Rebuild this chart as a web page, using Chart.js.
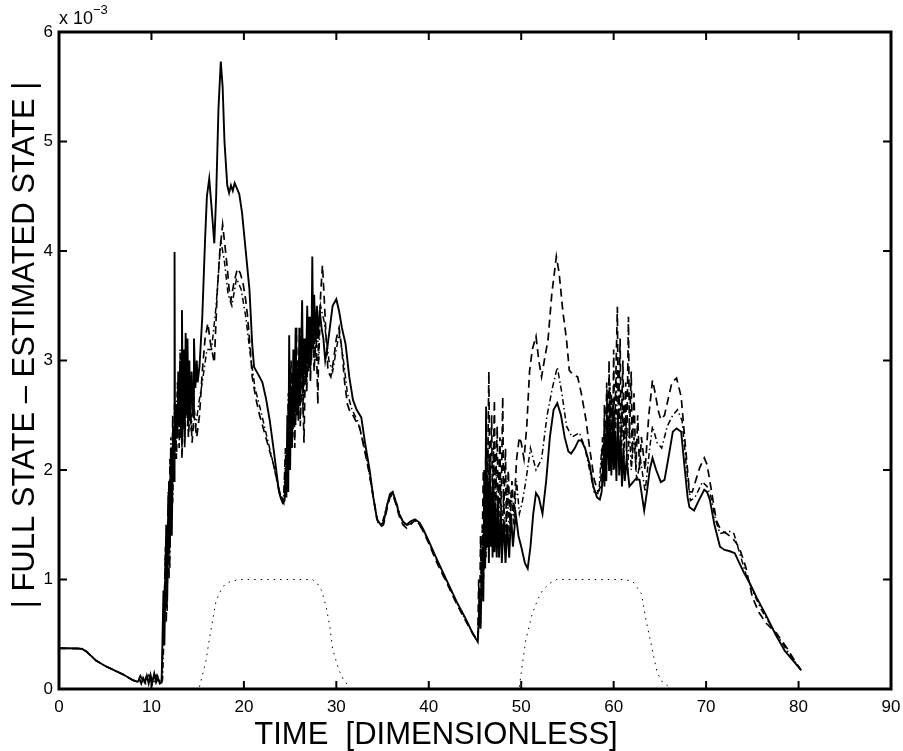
<!DOCTYPE html>
<html>
<head>
<meta charset="utf-8">
<script src="https://cdn.jsdelivr.net/npm/chart.js@4"></script>
<style>
  html, body { margin: 0; padding: 0; background: #fff; }
  #wrap { width: 903px; height: 751px; }
</style>
</head>
<body>
<div id="wrap"><canvas id="errChart"></canvas></div>
<script>
// values in units of 1e-3
const solidX = [0, 1, 2, 2.5, 3, 3.5, 4, 5, 6, 7, 8, 8.5,
  8.7, 8.9, 9.1, 9.3, 9.5, 9.7, 9.9, 10.1, 10.3, 10.5, 10.7, 10.9, 11.1,
  11.3, 11.4, 11.6, 11.7, 11.9, 12.0, 12.1, 12.2, 12.35, 12.45, 12.5, 12.55, 12.7, 12.8, 12.9, 13.0, 13.1, 13.2, 13.3, 13.4, 13.5, 13.6, 13.7, 13.8, 13.9, 14.0, 14.1, 14.2, 14.35, 14.5, 14.6, 14.75, 14.9, 15.0,
  15.2, 15.5, 15.8, 16.0, 16.25, 16.5, 16.8, 17.0, 17.25, 17.5, 17.7, 17.9, 18.2, 18.4, 18.6, 18.8, 19.0, 19.2, 19.5, 19.8, 20.2, 20.6, 20.9, 21.1, 21.5, 22.0, 22.4, 22.8, 23.2, 23.5, 23.8, 24.0, 24.2, 24.4,
  24.5, 24.6, 24.7, 24.8, 24.9, 25.0, 25.1, 25.2, 25.35, 25.45, 25.6, 25.7, 25.8, 25.9, 26.0, 26.1, 26.3, 26.4, 26.55, 26.7, 26.85, 27.0, 27.15, 27.3, 27.4, 27.5, 27.6, 27.75, 27.9, 28.0, 28.2, 28.4, 28.6, 28.8, 29.0, 29.3, 29.6, 30.0, 30.3, 30.6, 31.0, 31.4, 31.8, 32.2, 32.7, 33.1, 33.6, 34.0, 34.4, 34.8, 35.1, 35.5, 35.8, 36.1, 36.4, 36.8, 37.2, 37.6, 38.0, 38.5, 39.0, 39.4, 40, 41, 42, 43, 44, 44.8, 45.3,
  45.5, 45.6, 45.8, 45.9, 46.0, 46.1, 46.2, 46.3, 46.4, 46.5, 46.6, 46.7, 46.8, 46.9, 47.0, 47.1, 47.2, 47.35, 47.5, 47.6, 47.8, 47.9, 48.1, 48.3, 48.5, 48.7, 48.9, 49.1, 49.4, 49.7, 50.0, 50.4, 50.7, 51.0, 51.3, 51.6, 51.9, 52.3, 52.7, 53.1, 53.5, 53.9, 54.3, 54.7, 55.1, 55.4, 55.8, 56.2, 56.5, 56.9, 57.4, 57.8, 58.2, 58.5, 58.7,
  58.9, 59.0, 59.1, 59.2, 59.35, 59.5, 59.6, 59.75, 59.9, 60.0, 60.15, 60.3, 60.45, 60.6, 60.75, 60.9, 61.05, 61.2, 61.4, 61.7, 62.0, 62.4, 62.8, 63.0, 63.3, 63.6, 63.9, 64.2, 64.6, 65.1, 65.5, 65.9, 66.4, 66.8, 67.3, 67.7, 68.0, 68.2, 68.7, 69.2, 69.8, 70.1, 70.4, 70.9, 71.5, 72.0, 72.5, 73.1, 73.6, 74.1, 74.7, 75.5, 76.5, 77.5, 78.5, 79.5, 80.3];
const solidY = [0.375, 0.372, 0.37, 0.365, 0.34, 0.3, 0.26, 0.21, 0.17, 0.13, 0.08, 0.065,
  0.09, 0.05, 0.1, 0.06, 0.12, 0.05, 0.13, 0.06, 0.14, 0.06, 0.1, 0.05, 0.06,
  0.9, 0.4, 1.5, 0.8, 1.9, 1.3, 2.2, 1.4, 2.4, 1.9, 3.99, 2.2, 2.6, 2.3, 2.9, 2.4, 3.0, 2.3, 3.46, 2.4, 3.1, 2.3, 3.25, 2.5, 3.2, 2.4, 3.0, 2.45, 2.9, 2.5, 3.2, 2.75, 3.0, 2.8,
  2.95, 3.4, 4.1, 4.5, 4.66, 4.4, 4.07, 4.5, 5.3, 5.73, 5.5, 5.0, 4.6, 4.53, 4.6, 4.55, 4.62, 4.58, 4.52, 4.35, 4.0, 3.65, 3.15, 2.94, 2.88, 2.8, 2.65, 2.45, 2.2, 2.0, 1.8, 1.74, 1.7, 1.72,
  2.0, 1.75, 2.5, 1.8, 3.23, 2.0, 2.7, 2.2, 3.1, 2.4, 3.3, 2.5, 2.9, 2.45, 3.3, 2.6, 3.55, 2.7, 3.2, 2.8, 3.5, 2.9, 3.4, 3.0, 3.95, 3.1, 3.6, 3.2, 3.5, 3.2, 3.46, 3.3, 3.2, 3.0, 3.1, 3.3, 3.5, 3.56, 3.45, 3.3, 3.15, 2.85, 2.64, 2.55, 2.48, 2.25, 2.0, 1.75, 1.55, 1.5, 1.52, 1.68, 1.78, 1.8, 1.72, 1.6, 1.53, 1.5, 1.53, 1.55, 1.52, 1.46, 1.35, 1.16, 0.98, 0.8, 0.64, 0.5, 0.43,
  0.8, 0.55, 1.3, 0.8, 2.0, 1.1, 2.58, 1.3, 1.9, 1.15, 2.1, 1.3, 1.8, 1.2, 1.9, 1.25, 1.7, 1.2, 1.75, 1.2, 1.6, 1.15, 1.55, 1.15, 1.5, 1.2, 1.6, 1.3, 1.6, 1.4, 1.3, 1.15, 1.1, 1.3, 1.6, 1.79, 1.75, 1.6, 1.9, 2.3, 2.55, 2.61, 2.5, 2.3, 2.17, 2.15, 2.2, 2.27, 2.27, 2.2, 2.05, 1.85, 1.75, 1.73, 1.8,
  2.1, 1.85, 2.3, 1.9, 2.5, 2.0, 2.4, 1.95, 2.6, 2.0, 2.35, 1.9, 2.5, 1.95, 2.3, 1.85, 2.2, 1.9, 2.1, 1.85, 1.88, 1.92, 1.91, 1.8, 1.63, 1.8, 2.0, 2.11, 2.0, 1.89, 1.91, 2.1, 2.35, 2.38, 2.35, 2.0, 1.75, 1.66, 1.63, 1.72, 1.82, 1.8, 1.73, 1.5, 1.3, 1.27, 1.26, 1.24, 1.15, 1.06, 0.97, 0.83, 0.67, 0.5, 0.35, 0.25, 0.17];

const dashX = [0, 2.5, 3, 4, 5, 6, 7, 8, 8.5, 8.8, 9.2, 9.6, 10.0, 10.4, 10.8, 11.1,
  11.3, 11.5, 11.6, 11.8, 11.9, 12.0, 12.2, 12.3, 12.4, 12.6, 12.7, 12.9, 13.0, 13.2, 13.3, 13.5, 13.6, 13.8, 14.0, 14.2, 14.4, 14.6, 14.9, 15.2, 15.5, 15.8, 16.1, 16.4, 16.8, 17.1, 17.4, 17.7, 17.95, 18.2, 18.4, 18.6, 18.9, 19.3, 19.6, 19.9, 20.2, 20.4, 20.7, 20.9, 21.3, 21.7, 22.2, 22.7, 23.2, 23.6, 24.0, 24.3,
  24.5, 24.6, 24.8, 24.9, 25.1, 25.2, 25.4, 25.5, 25.7, 25.8, 26.0, 26.1, 26.3, 26.5, 26.7, 26.8, 27.0, 27.2, 27.4, 27.6, 27.8, 28.0, 28.1, 28.3, 28.5, 28.7, 28.9, 29.1, 29.4, 29.7, 30.0, 30.3, 30.6, 30.9, 31.2, 31.4, 31.8, 32.1, 32.5, 33.0, 33.5, 34.0, 34.4, 34.8, 35.1, 35.5, 35.8, 36.1, 36.4, 36.8, 37.2, 37.6, 38.0, 38.5, 39.0, 39.4, 40, 41, 42, 43, 44, 44.8, 45.3,
  45.4, 45.5, 45.6, 45.7, 45.9, 46.0, 46.2, 46.3, 46.5, 46.6, 46.8, 46.9, 47.1, 47.2, 47.4, 47.5, 47.7, 47.8, 48.0, 48.1, 48.3, 48.4, 48.6, 48.8, 49.0, 49.2, 49.5, 49.8, 50.0, 50.3, 50.6, 50.9, 51.2, 51.6, 51.9, 52.2, 52.5, 52.9, 53.3, 53.8, 54.1, 54.5, 54.9, 55.2, 55.6, 56.1, 56.5, 57.0, 57.4, 57.9, 58.3, 58.6,
  58.8, 58.9, 59.0, 59.1, 59.25, 59.4, 59.5, 59.6, 59.75, 59.9, 60.0, 60.1, 60.25, 60.4, 60.5, 60.7, 60.8, 61.0, 61.1, 61.3, 61.4, 61.6, 61.7, 61.9, 62.0, 62.2, 62.4, 62.6, 62.8, 63.0, 63.4, 63.8, 64.2, 64.5, 64.8, 65.1, 65.5, 65.9, 66.3, 66.8, 67.3, 67.8, 68.2, 68.5, 68.9, 69.3, 69.8, 70.1, 70.5, 71.1, 71.6, 72.2, 72.8, 73.2, 73.6, 74.3, 75.0, 75.7, 76.5, 77.6, 78.7, 79.5, 80.2];
const dashY = [0.37, 0.37, 0.34, 0.26, 0.21, 0.17, 0.13, 0.08, 0.065, 0.12, 0.05, 0.15, 0.06, 0.12, 0.05, 0.07,
  0.5, 1.2, 0.6, 1.7, 1.0, 2.1, 1.6, 2.5, 2.0, 2.6, 2.1, 2.8, 2.2, 3.0, 2.1, 2.8, 2.2, 2.9, 2.3, 2.6, 2.25, 2.5, 2.3, 2.5, 2.9, 3.2, 3.34, 3.15, 2.98, 3.6, 4.0, 4.24, 4.05, 3.85, 3.65, 3.55, 3.7, 3.84, 3.8, 3.71, 3.55, 3.4, 3.1, 2.85, 2.65, 2.5, 2.35, 2.2, 2.05, 1.9, 1.75, 1.7,
  2.2, 1.8, 2.6, 2.0, 3.0, 2.3, 2.8, 2.2, 3.3, 2.5, 3.1, 2.4, 3.0, 2.25, 3.2, 2.7, 3.4, 2.8, 3.5, 2.9, 3.3, 2.6, 3.2, 3.6, 3.87, 3.55, 3.2, 2.9, 2.85, 3.0, 3.2, 3.3, 3.1, 2.8, 2.6, 2.55, 2.5, 2.45, 2.4, 2.2, 2.0, 1.75, 1.55, 1.48, 1.5, 1.65, 1.75, 1.78, 1.7, 1.58, 1.5, 1.47, 1.5, 1.54, 1.5, 1.44, 1.33, 1.13, 0.96, 0.78, 0.62, 0.5, 0.45,
  1.0, 0.6, 1.4, 0.8, 2.0, 1.3, 2.3, 1.5, 2.9, 1.7, 2.5, 1.6, 2.64, 1.7, 2.4, 1.6, 2.3, 1.5, 2.67, 1.6, 2.2, 1.4, 2.0, 1.5, 1.9, 1.6, 2.1, 2.3, 2.25, 2.1, 2.4, 2.9, 3.1, 3.22, 3.0, 2.85, 3.0, 3.19, 3.6, 3.95, 3.8, 3.45, 3.19, 2.91, 2.87, 2.85, 2.7, 2.46, 2.2, 1.91, 1.8, 1.85,
  2.3, 1.9, 2.6, 2.0, 2.8, 2.1, 3.0, 2.2, 2.7, 2.1, 3.1, 2.3, 2.9, 3.49, 2.4, 3.2, 2.3, 3.0, 2.2, 2.8, 2.1, 3.4, 2.3, 2.9, 2.1, 2.7, 2.0, 2.5, 2.0, 2.3, 2.0, 2.5, 2.82, 2.7, 2.55, 2.46, 2.5, 2.65, 2.8, 2.84, 2.67, 2.18, 1.8, 1.8, 1.91, 2.02, 2.11, 2.05, 1.85, 1.54, 1.45, 1.42, 1.38, 1.34, 1.29, 1.11, 0.84, 0.7, 0.6, 0.51, 0.38, 0.27, 0.18];

const dashDotX = [0, 2.5, 3, 4, 5, 6, 7, 8, 8.5, 9.0, 9.4, 9.8, 10.2, 10.6, 11.0, 11.2,
  11.4, 11.5, 11.7, 11.8, 12.0, 12.1, 12.3, 12.5, 12.6, 12.8, 13.0, 13.1, 13.3, 13.4, 13.6, 13.8, 13.9, 14.1, 14.3, 14.5, 14.8, 15.1, 15.5, 16.0, 16.5, 17.0, 17.5, 17.9, 18.3, 18.7, 19.2, 19.7, 20.2, 20.7, 21.2, 21.8, 22.5, 23.2, 23.8, 24.3,
  24.5, 24.7, 24.8, 25.0, 25.1, 25.3, 25.5, 25.6, 25.8, 26.0, 26.2, 26.4, 26.6, 26.8, 27.0, 27.2, 27.5, 27.7, 27.9, 28.1, 28.3, 28.7, 29.2, 29.6, 30.0, 30.3, 30.7, 31.2, 31.7, 32.3, 33.0, 33.5, 34.0, 34.5, 34.9, 35.3, 35.7, 36.1, 36.5, 37.0, 37.5, 38.0, 38.6, 39.3, 40, 41, 42, 43, 44, 44.8, 45.3,
  45.5, 45.6, 45.8, 45.9, 46.1, 46.2, 46.4, 46.5, 46.7, 46.8, 47.0, 47.2, 47.3, 47.5, 47.7, 47.9, 48.1, 48.3, 48.5, 48.7, 48.9, 49.2, 49.5, 49.8, 50.1, 50.5, 51.0, 51.6, 52.2, 52.8, 53.4, 53.9, 54.4, 54.9, 55.5, 56.3, 56.9, 57.4, 57.9, 58.4,
  58.7, 58.85, 59.0, 59.15, 59.3, 59.45, 59.6, 59.8, 59.95, 60.1, 60.3, 60.45, 60.6, 60.8, 60.95, 61.1, 61.3, 61.5, 61.7, 61.9, 62.2, 62.5, 62.9, 63.4, 63.9, 64.2, 64.7, 65.2, 65.8, 66.4, 66.9, 67.4, 67.9, 68.3, 68.8, 69.6, 70.1, 70.5, 71.0, 71.5, 72.5, 73.0, 73.6, 74.3, 75.0, 76.0, 77.0, 78.0, 79.0, 80.2];
const dashDotY = [0.37, 0.37, 0.34, 0.26, 0.21, 0.17, 0.13, 0.08, 0.07, 0.1, 0.05, 0.11, 0.05, 0.13, 0.06, 0.08,
  0.6, 1.3, 0.7, 1.8, 1.1, 2.3, 1.7, 2.6, 2.1, 2.8, 2.3, 3.1, 2.2, 2.9, 2.3, 3.0, 2.4, 2.8, 2.35, 2.7, 2.4, 2.6, 2.8, 3.1, 3.1, 3.5, 4.1, 3.9, 3.6, 3.5, 3.75, 3.65, 3.4, 3.05, 2.75, 2.55, 2.3, 2.05, 1.8, 1.72,
  2.1, 1.8, 2.7, 2.1, 2.9, 2.3, 3.1, 2.4, 3.0, 2.6, 3.3, 2.5, 3.1, 2.8, 3.4, 2.9, 3.6, 3.0, 3.4, 3.0, 3.5, 3.35, 3.0, 2.9, 3.1, 3.25, 3.05, 2.7, 2.55, 2.45, 2.22, 2.0, 1.75, 1.52, 1.5, 1.62, 1.75, 1.79, 1.7, 1.56, 1.49, 1.51, 1.54, 1.47, 1.34, 1.15, 0.97, 0.79, 0.63, 0.5, 0.44,
  0.9, 0.6, 1.5, 0.9, 1.8, 1.2, 2.2, 1.3, 1.9, 1.3, 2.2, 1.4, 2.0, 1.3, 1.9, 1.35, 1.8, 1.3, 1.9, 1.4, 1.8, 1.5, 1.9, 1.6, 1.7, 1.9, 2.2, 2.0, 2.1, 2.5, 2.76, 2.94, 2.7, 2.4, 2.3, 2.34, 2.2, 2.0, 1.8, 1.78,
  2.2, 1.9, 2.5, 2.0, 2.7, 2.05, 2.8, 2.1, 2.6, 2.0, 2.9, 2.1, 2.7, 2.0, 2.6, 2.1, 2.5, 1.95, 2.4, 2.0, 2.3, 1.9, 2.1, 1.8, 2.2, 2.4, 2.25, 2.2, 2.4, 2.5, 2.55, 2.45, 2.0, 1.72, 1.75, 1.89, 1.85, 1.76, 1.55, 1.42, 1.44, 1.42, 1.25, 1.05, 0.9, 0.72, 0.58, 0.45, 0.32, 0.18];

// control input shown as dotted trapezoids (null splits the two pulses)
const dottedX = [15.2, 15.5, 15.9, 16.2, 16.5, 17.0, 17.5, 17.9, 18.5, 19.5, 27.4, 27.9, 28.4, 28.9, 29.3, 29.6, 30.0, 30.3, 30.8, 31.4,
  40,
  49.8, 50.0, 50.5, 51.2, 51.8, 52.3, 53.0, 53.8, 61.2, 62.1, 63.0, 63.5, 64.1, 64.7, 65.3, 66.0];
const dottedY = [0.02, 0.12, 0.26, 0.42, 0.57, 0.81, 0.9, 0.95, 0.98, 1.0, 1.0, 0.97, 0.9, 0.75, 0.57, 0.36, 0.25, 0.17, 0.08, 0.02,
  null,
  0.02, 0.15, 0.45, 0.69, 0.82, 0.9, 0.96, 1.0, 1.0, 0.98, 0.87, 0.63, 0.39, 0.15, 0.06, 0.02];

const xTicks = [0, 10, 20, 30, 40, 50, 60, 70, 80, 90];
const yTicks = [0, 1, 2, 3, 4, 5, 6];
const xTitle = 'TIME  [DIMENSIONLESS]';
const yTitle = '| FULL STATE \u2013 ESTIMATED STATE |';

function toPoints(xs, ys) {
    return xs.map((x, i) => ({ x: x, y: ys[i] }));
}

const FONT = '"Liberation Sans", Arial, Helvetica, sans-serif';
Chart.defaults.font.family = FONT;
Chart.defaults.color = '#000';

// MATLAB style box with inward ticks, axis titles and exponent label
const boxPlugin = {
    id: 'boxPlugin',
    afterDraw(chart) {
        const ctx = chart.ctx;
        const a = chart.chartArea;
        const xs = chart.scales.x, ys = chart.scales.y;
        ctx.save();
        ctx.strokeStyle = '#000';
        ctx.lineWidth = 2;
        xTicks.forEach(v => {
            const px = xs.getPixelForValue(v);
            ctx.beginPath();
            ctx.moveTo(px, a.bottom); ctx.lineTo(px, a.bottom - 8);
            ctx.moveTo(px, a.top); ctx.lineTo(px, a.top + 8);
            ctx.stroke();
        });
        yTicks.forEach(v => {
            const py = ys.getPixelForValue(v);
            ctx.beginPath();
            ctx.moveTo(a.left, py); ctx.lineTo(a.left + 8, py);
            ctx.moveTo(a.right, py); ctx.lineTo(a.right - 8, py);
            ctx.stroke();
        });
        ctx.lineWidth = 3;
        ctx.strokeRect(a.left, a.top, a.right - a.left, a.bottom - a.top);

        ctx.fillStyle = '#000';
        // exponent
        ctx.textAlign = 'left';
        ctx.textBaseline = 'alphabetic';
        ctx.font = '18px ' + FONT;
        ctx.fillText('x 10', a.left, a.top - 8);
        const w = ctx.measureText('x 10').width;
        ctx.font = '13px ' + FONT;
        ctx.fillText('\u22123', a.left + w, a.top - 18);

        // axis titles
        ctx.textAlign = 'center';
        ctx.textBaseline = 'middle';
        ctx.font = '31px ' + FONT;
        ctx.fillText(xTitle, 436, 735);
        ctx.translate(25, 345);
        ctx.rotate(-Math.PI / 2);
        ctx.fillText(yTitle, 0, 0);
        ctx.restore();
    }
};

new Chart(document.getElementById('errChart'), {
    type: 'line',
    data: {
        datasets: [{
            label: 'solid',
            data: toPoints(solidX, solidY),
            borderColor: '#000',
            borderWidth: 1.9
        }, {
            label: 'dashed',
            data: toPoints(dashX, dashY),
            borderColor: '#000',
            borderWidth: 1.7,
            borderDash: [8, 5]
        }, {
            label: 'dash-dot',
            data: toPoints(dashDotX, dashDotY),
            borderColor: '#000',
            borderWidth: 1.5,
            borderDash: [6, 3, 1.5, 3]
        }, {
            label: 'input',
            data: toPoints(dottedX, dottedY),
            borderColor: '#000',
            borderWidth: 1,
            borderDash: [1.5, 5],
            spanGaps: false
        }]
    },
    options: {
        responsive: true,
        maintainAspectRatio: false,
        animation: false,
        layout: { padding: { top: 32, right: 12 } },
        elements: { point: { radius: 0 }, line: { tension: 0 } },
        plugins: { legend: { display: false }, tooltip: { enabled: false } },
        scales: {
            x: {
                type: 'linear',
                min: 0,
                max: 90,
                grid: { display: false, drawTicks: false },
                border: { display: false },
                afterBuildTicks: s => { s.ticks = xTicks.map(v => ({ value: v })); },
                afterFit: s => { s.height = 62; s.paddingLeft = 0; s.paddingRight = 0; },
                ticks: { padding: 8, font: { size: 17 }, maxRotation: 0 }
            },
            y: {
                min: 0,
                max: 6,
                grid: { display: false, drawTicks: false },
                border: { display: false },
                afterBuildTicks: s => { s.ticks = yTicks.map(v => ({ value: v })); },
                afterFit: s => { s.width = 59; s.paddingTop = 0; s.paddingBottom = 0; },
                ticks: { padding: 6, font: { size: 17 } }
            }
        }
    },
    plugins: [boxPlugin]
});
</script>
</body>
</html>
